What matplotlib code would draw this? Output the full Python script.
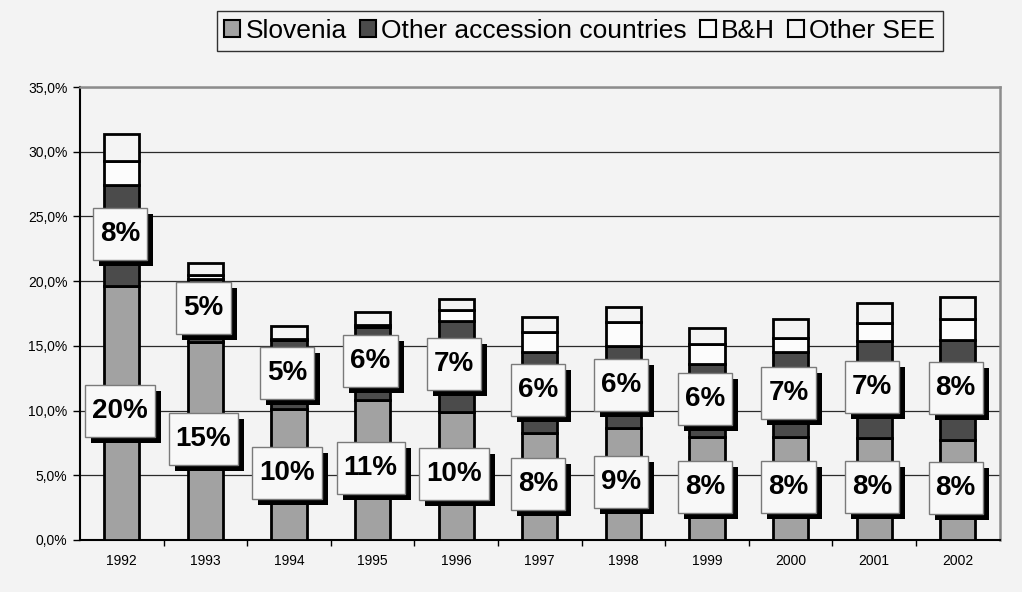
import matplotlib
matplotlib.use("Agg")
import matplotlib.pyplot as plt
from matplotlib.patches import Rectangle
from matplotlib.transforms import IdentityTransform
from matplotlib.ticker import FuncFormatter, MultipleLocator

years = ["1992", "1993", "1994", "1995", "1996", "1997", "1998", "1999", "2000", "2001", "2002"]
slovenia = [19.6, 15.3, 10.1, 10.8, 9.91, 8.29, 8.67, 7.93, 7.93, 7.9, 7.72]
other_accession = [7.8, 4.9, 5.35, 5.67, 7.03, 6.23, 6.33, 5.66, 6.56, 7.45, 7.72]
bih = [1.9, 0.3, 0.1, 0.1, 0.82, 1.54, 1.81, 1.52, 1.13, 1.43, 1.6]
other_see = [2.05, 0.9, 0.95, 1.06, 0.82, 1.14, 1.21, 1.24, 1.42, 1.5, 1.7]

series_names = ["Slovenia", "Other accession countries", "B&H", "Other SEE"]
series_colors = ["#a2a2a2", "#4b4b4b", "#fcfcfc", "#f4f4f4"]

bg = "#f3f3f3"
plt.rcParams["font.family"] = ["Liberation Sans", "DejaVu Sans"]

fig = plt.figure(figsize=(10.22, 5.92), dpi=100, facecolor=bg)
ax = fig.add_axes([0.0783, 0.088, 0.8997, 0.765], facecolor=bg)

x = list(range(len(years)))
bottom = [0.0] * len(years)
bar_sets = []
for vals, name, col in zip([slovenia, other_accession, bih, other_see], series_names, series_colors):
    b = ax.bar(x, vals, 0.42, bottom=bottom, color=col, edgecolor="black",
               linewidth=2, label=name, zorder=3)
    bar_sets.append((vals, list(bottom)))
    bottom = [a + v for a, v in zip(bottom, vals)]

ax.set_xlim(-0.5, len(years) - 0.5)
ax.set_ylim(0, 35)
ax.yaxis.set_major_locator(MultipleLocator(5))
ax.yaxis.set_major_formatter(FuncFormatter(lambda v, p: f"{v:.1f}%".replace(".", ",")))
ax.grid(axis="y", color="#2a2a2a", linewidth=0.9, zorder=1)
ax.set_axisbelow(True)

ax.set_xticks(x)
ax.set_xticklabels(years, fontsize=10)
ax.set_xticks([i + 0.5 for i in x[:-1]], minor=True)
ax.tick_params(axis="x", which="major", length=0, pad=10)
ax.tick_params(axis="x", which="minor", length=4, width=1, direction="out")
ax.tick_params(axis="y", length=5, width=1, direction="out", labelsize=10, pad=4)

for side in ["left", "bottom"]:
    ax.spines[side].set_color("black")
    ax.spines[side].set_linewidth(1.5)
for side in ["top", "right"]:
    ax.spines[side].set_color("#8c8c8c")
    ax.spines[side].set_linewidth(1.8)

leg = fig.legend(loc="center", bbox_to_anchor=(0.5675, 0.9476), ncol=4, fontsize=19,
                 frameon=True, fancybox=False, edgecolor="black", facecolor=bg,
                 handlelength=0.6, handleheight=0.6, handletextpad=0.2,
                 columnspacing=0.5, borderpad=0.3, borderaxespad=0)
leg.get_frame().set_linewidth(1.0)
for h in leg.legend_handles:
    h.set_linewidth(1.5)

# value labels for the two lower segments, boxed with a drop shadow
texts = []
for vals, bots in bar_sets[:2]:
    for i, (v, b0) in enumerate(zip(vals, bots)):
        px, py = ax.transData.transform((i, b0 + v / 2))
        t = ax.text(px - 2, py + 2, f"{v:.0f}%", transform=IdentityTransform(),
                    ha="center", va="center", fontsize=20, fontweight="bold",
                    zorder=7, clip_on=False)
        texts.append(t)

fig.canvas.draw()
renderer = fig.canvas.get_renderer()
for t in texts:
    bb = t.get_window_extent(renderer)
    w = bb.width + 14
    h = 52
    cx, cy = t.get_position()
    shadow = Rectangle((cx - w / 2 + 6, cy - h / 2 - 6), w, h, facecolor="black",
                       edgecolor="none", transform=IdentityTransform(), zorder=5, clip_on=False)
    box = Rectangle((cx - w / 2, cy - h / 2), w, h, facecolor="#f8f8f8",
                    edgecolor="#7a7a7a", linewidth=1.0, transform=IdentityTransform(),
                    zorder=6, clip_on=False)
    ax.add_artist(shadow)
    ax.add_artist(box)

fig.savefig("out.png", dpi=100, facecolor=bg)
